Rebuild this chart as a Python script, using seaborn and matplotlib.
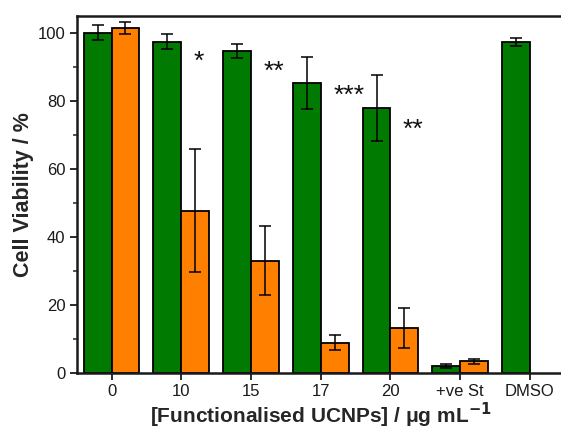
import numpy as np
import pandas as pd
import matplotlib
matplotlib.use("Agg")
import matplotlib.pyplot as plt
from matplotlib.ticker import MultipleLocator
import seaborn as sns

categories = ["0", "10", "15", "17", "20", "+ve St", "DMSO"]
dark_mean = [100.0, 97.3, 94.7, 85.3, 78.0, 2.2, 97.3]
dark_err = [2.2, 2.2, 2.0, 7.6, 9.7, 0.5, 1.2]
light_mean = [101.3, 47.7, 33.1, 8.9, 13.3, 3.5, np.nan]
light_err = [1.7, 18.1, 10.1, 2.2, 6.0, 0.8, np.nan]
stars = ["", "*", "**", "***", "**", "", ""]
star_y = [np.nan, 93, 90, 83, 73, np.nan, np.nan]
series = ["dark", "light"]

sns.set_style("ticks")
plt.rcParams['font.family'] = ['Liberation Sans', 'DejaVu Sans']

rows = []
for i, c in enumerate(categories):
    rows.append({"cat": c, "series": "dark", "val": dark_mean[i], "err": dark_err[i]})
    if not np.isnan(light_mean[i]):
        rows.append({"cat": c, "series": "light", "val": light_mean[i], "err": light_err[i]})
df = pd.DataFrame(rows)

fig = plt.figure(figsize=(5.61, 4.32), dpi=100)
ax = fig.add_axes([0.1367, 0.1359, 0.8700, 0.9637 - 0.1359])

palette = {"dark": "#007a00", "light": "#ff8000"}
sns.barplot(data=df, x="cat", y="val", hue="series", order=categories,
            hue_order=series, palette=palette, errorbar=None, width=0.8,
            saturation=1, edgecolor="black", linewidth=1.3, legend=False, ax=ax)

errs = {"dark": dark_err, "light": light_err}
means = {"dark": dark_mean, "light": light_mean}
for s, cont in zip(series, ax.containers):
    for bar in cont:
        xc = bar.get_x() + bar.get_width() / 2
        idx = int(round(xc))
        h = bar.get_height()
        if np.isnan(h):
            continue
        ax.errorbar(xc, means[s][idx], yerr=errs[s][idx], fmt="none",
                    ecolor="black", elinewidth=1.1, capsize=4, capthick=1.1, zorder=5)

for i, st in enumerate(stars):
    if st:
        ax.text(i + 0.18, star_y[i] - 1.5, st, ha="left", va="center",
                fontsize=19, fontweight="normal", color="#111111")

ax.set_xlim(-0.5, 6.5)
ax.set_ylim(0, 105)
ax.yaxis.set_major_locator(MultipleLocator(20))
ax.yaxis.set_minor_locator(MultipleLocator(10))
ax.tick_params(axis="both", which="major", direction="out", length=5, width=1.3,
               labelsize=12, colors="#1a1a1a", pad=3)
ax.tick_params(axis="y", which="minor", direction="out", length=3, width=1.1)
for sp in ax.spines.values():
    sp.set_visible(True)
    sp.set_linewidth(1.8)
    sp.set_color("#1a1a1a")

ax.set_xlabel("[Functionalised UCNPs] / \u03bcg mL$^{\\mathbf{-1}}$", fontsize=15,
              fontweight="bold", labelpad=1)
ax.set_ylabel("Cell Viability / %", fontsize=15.5, fontweight="bold", labelpad=3)

fig.savefig("out.png", dpi=100)
